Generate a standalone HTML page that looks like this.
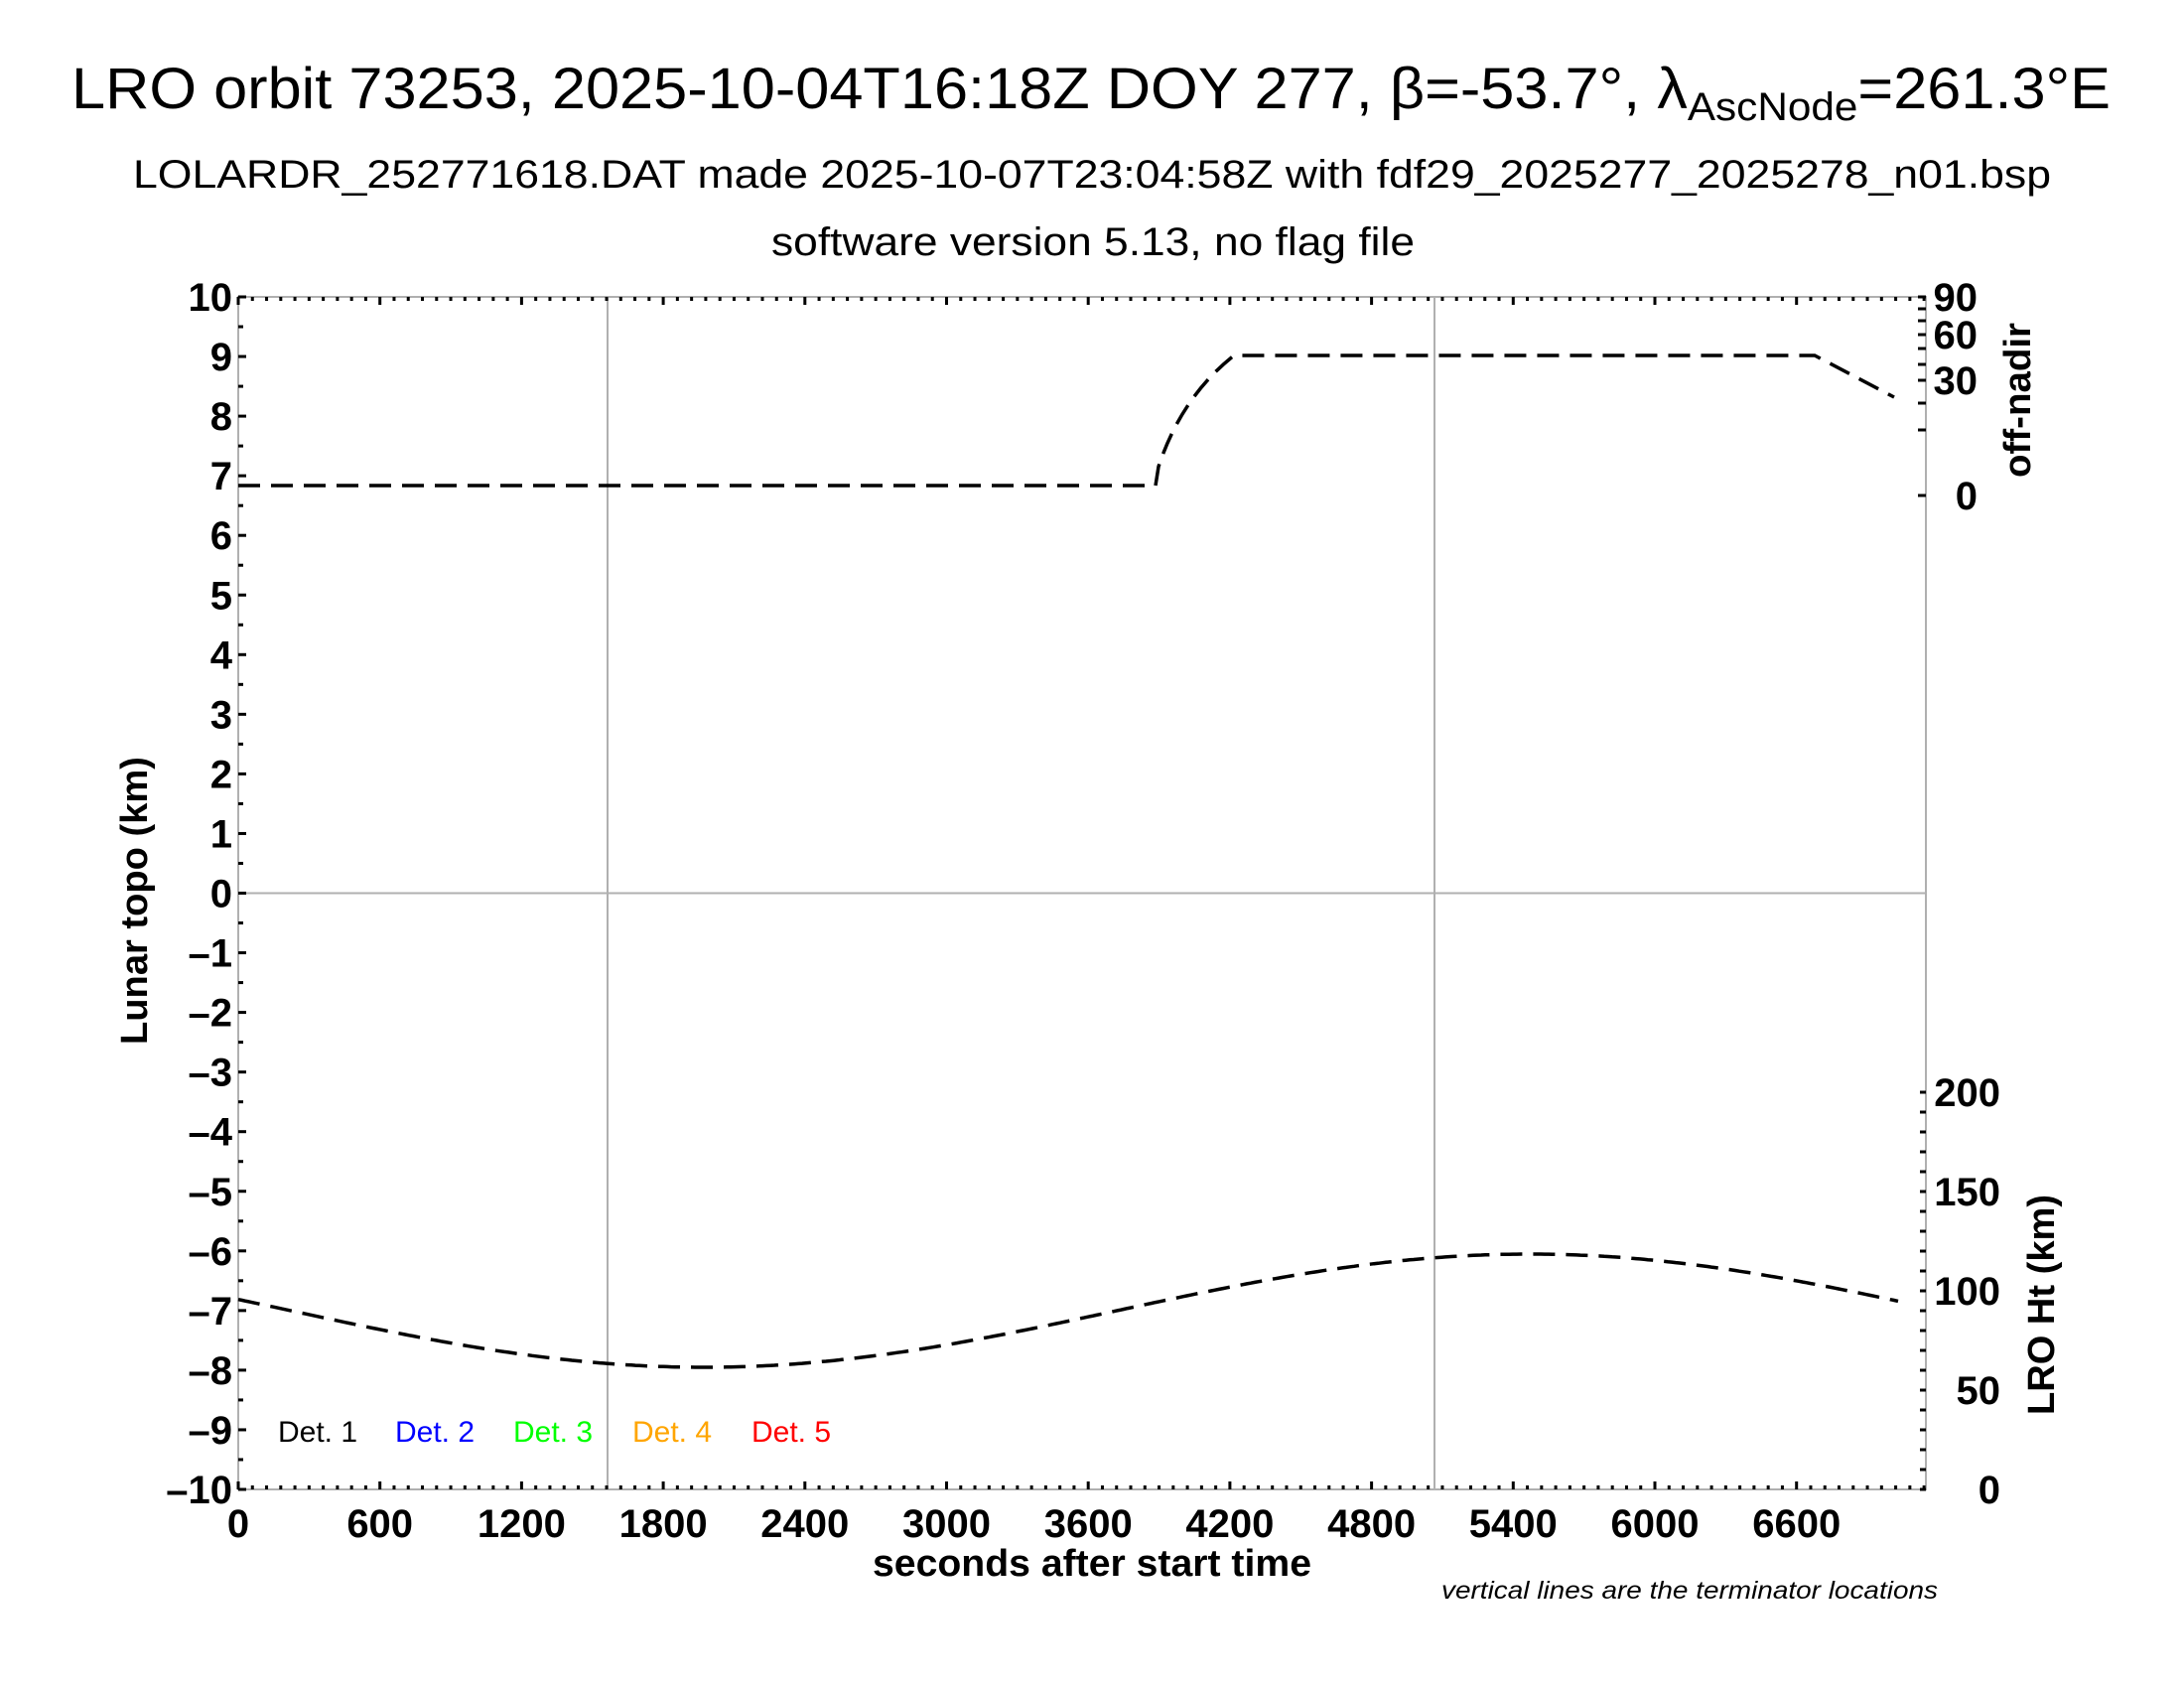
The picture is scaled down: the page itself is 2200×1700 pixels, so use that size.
<!DOCTYPE html>
<html><head><meta charset="utf-8"><style>
html,body{margin:0;padding:0;background:#fff}
svg{display:block}
text{font-family:"Liberation Sans",Arial,sans-serif}
</style></head><body>
<svg id="s" width="2200" height="1700" viewBox="0 0 2200 1700" xmlns="http://www.w3.org/2000/svg">
<rect width="2200" height="1700" fill="#fff"/>
<text x="72" y="109" font-size="58" textLength="2054" lengthAdjust="spacingAndGlyphs">LRO orbit 73253, 2025-10-04T16:18Z DOY 277, β=-53.7°, λ<tspan font-size="40" dy="12">AscNode</tspan><tspan dy="-12">=261.3°E</tspan></text>
<text x="134" y="189" font-size="40" textLength="1932" lengthAdjust="spacingAndGlyphs">LOLARDR_252771618.DAT made 2025-10-07T23:04:58Z with fdf29_2025277_2025278_n01.bsp</text>
<text x="777" y="257" font-size="40" textLength="648" lengthAdjust="spacingAndGlyphs">software version 5.13, no flag file</text>
<g stroke="#b0b0b0" stroke-width="2" fill="none">
<rect x="240" y="299" width="1700" height="1201"/>
<line x1="240" y1="899.5" x2="1940" y2="899.5"/>
<line x1="612" y1="299" x2="612" y2="1500"/>
<line x1="1445" y1="299" x2="1445" y2="1500"/>
</g>
<g id="ticks" stroke="#000" stroke-width="3"></g>
<g id="labels" font-size="40" font-weight="bold"></g>
<g fill="none" stroke="#000" stroke-width="3.5" stroke-dasharray="22,11">
<path d="M240,489 L1164,489 L1167,470 Q1190,400 1243,358 L1828,358 L1908,400"/>
<polyline id="ht"/>
</g>
<text x="280" y="1452" font-size="30" fill="#000">Det. 1</text>
<text x="398" y="1452" font-size="30" fill="#0000ff">Det. 2</text>
<text x="517" y="1452" font-size="30" fill="#00ff00">Det. 3</text>
<text x="637" y="1452" font-size="30" fill="#ffa500">Det. 4</text>
<text x="757" y="1452" font-size="30" fill="#ff0000">Det. 5</text>
<text font-size="38" font-weight="bold" transform="translate(148,907) rotate(-90)" text-anchor="middle" textLength="290" lengthAdjust="spacingAndGlyphs">Lunar topo (km)</text>
<text x="1100" y="1587" font-size="38" font-weight="bold" text-anchor="middle" textLength="442" lengthAdjust="spacingAndGlyphs">seconds after start time</text>
<text x="1952" y="1610" font-size="25" font-style="italic" text-anchor="end" textLength="500" lengthAdjust="spacingAndGlyphs">vertical lines are the terminator locations</text>
<text font-size="38" font-weight="bold" transform="translate(2045,403) rotate(-90)" text-anchor="middle" textLength="156" lengthAdjust="spacingAndGlyphs">off-nadir</text>
<text font-size="38" font-weight="bold" transform="translate(2069,1314) rotate(-90)" text-anchor="middle" textLength="222" lengthAdjust="spacingAndGlyphs">LRO Ht (km)</text>
</svg>
<script>
var NS="http://www.w3.org/2000/svg",t=document.getElementById('ticks'),L=document.getElementById('labels');
function ln(a,b,c,d){var e=document.createElementNS(NS,'line');e.setAttribute('x1',a);e.setAttribute('y1',b);e.setAttribute('x2',c);e.setAttribute('y2',d);t.appendChild(e);}
function tx(x,y,s,anc){var e=document.createElementNS(NS,'text');e.setAttribute('x',x);e.setAttribute('y',y);if(anc)e.setAttribute('text-anchor',anc);e.textContent=s;L.appendChild(e);}
var x0=240,px=142.7/600;
for(var s=0;s<=7140;s+=60){var x=x0+s*px,big=s%600==0;ln(x,299,x,big?307:303);ln(x,1500,x,big?1492:1496);}
for(var s=0;s<=6600;s+=600){tx(x0+s*px,1548,String(s),'middle');}
for(var k=-10;k<=10;k+=0.5){var y=899.5-k*60.05;ln(240,y,k%1==0?248:245,y);}
for(var k=-10;k<=10;k++){var y=899.5-k*60.05;tx(234,y+14,(k<0?'\u2013':'')+Math.abs(k),'end');}
[299,311,323,337,351,367,383,406,433,499].forEach(function(y){ln(1940,y,1932,y);});
[[90,299],[60,337],[30,383],[0,499]].forEach(function(a){tx(1992,a[1]+14,String(a[0]),'end');});
for(var h=0;h<=200;h+=10){var y=1500-h*2;ln(1940,y,1934,y);}
for(var h=0;h<=200;h+=50){tx(2015,1500-h*2+14,String(h),'end');}
var p=[];for(var x=240;x<=1915;x+=4){p.push(x+','+(1320+57*Math.cos(2*Math.PI*(x-709)/1664)).toFixed(1));}
document.getElementById('ht').setAttribute('points',p.join(' '));
</script>
</body></html>
